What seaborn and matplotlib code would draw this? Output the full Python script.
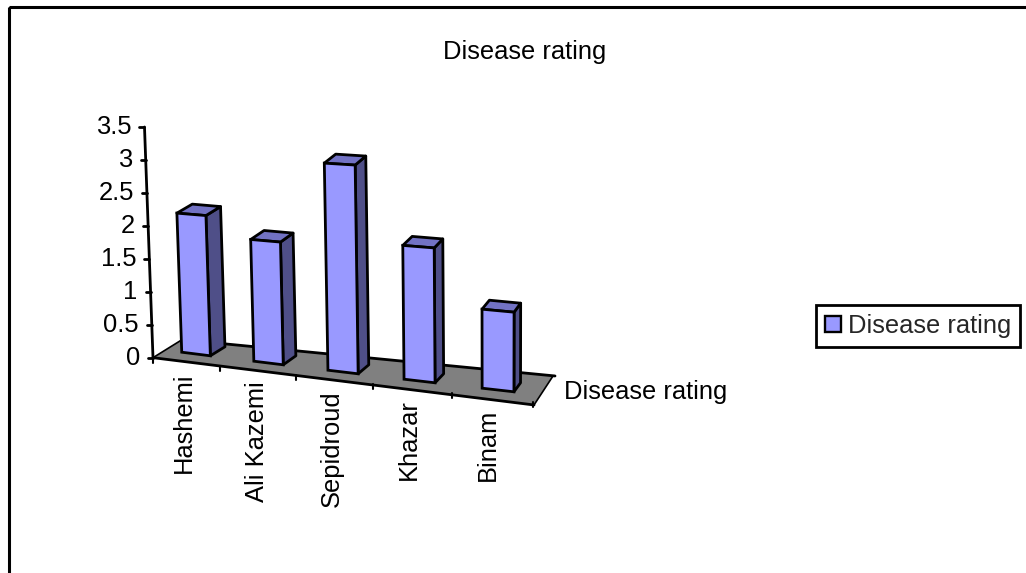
import numpy as np
import pandas as pd
import matplotlib
matplotlib.use("Agg")
import matplotlib.pyplot as plt
import seaborn as sns
from matplotlib.patches import Patch, Polygon, Rectangle
from matplotlib.transforms import Transform

# Chart data
CULTIVARS = ["Hashemi", "Ali Kazemi", "Sepidroud", "Khazar", "Binam"]
DISEASE_RATING = [2.1, 1.8, 3.0, 1.9, 1.1]
Y_TICKS = [0, 0.5, 1, 1.5, 2, 2.5, 3, 3.5]
Y_TICK_LABELS = ["0", "0.5", "1", "1.5", "2", "2.5", "3", "3.5"]
SERIES_NAME = "Disease rating"

# Styling
FRONT = "#9999FF"
SIDE = "#4F4F88"
TOP = "#7272C4"
FLOOR = "#808080"
FONT_PT = 18.4
EDGE_W = 2.0
BAR_WIDTH = 0.4
FRONT_DEPTH = -0.83   # depth of the floor's front edge, bars run from 0 to 1
AXIS_X = -0.42


def project(x, v, d=0.0):
    """Oblique perspective: category x, value v, depth d -> canvas pixels."""
    x, v, d = np.asarray(x, float), np.asarray(v, float), np.asarray(d, float)
    px = 196 + 71.5 * x + x ** 2 + (-2.2 + 0.55 * x) * v + d * (15 - 2 * x)
    py = 354 + 9 * x - (66.5 + 1.4 * x) * v - 9 * d
    return np.column_stack([px.ravel(), py.ravel()])


class FrontFace(Transform):
    """Applies project() to anything drawn in (category, value) coordinates."""
    input_dims = output_dims = 2
    is_separable = False
    has_inverse = False

    def transform_non_affine(self, values):
        values = np.asarray(values, float)
        return project(values[:, 0], values[:, 1])


sns.set_theme(style="white")
plt.rcParams["font.family"] = ["Liberation Sans", "DejaVu Sans"]

fig = plt.figure(figsize=(10.26, 5.73), dpi=100, facecolor="white")
ax = fig.add_axes([0, 0, 1, 1])

frame = pd.DataFrame({"cultivar": CULTIVARS, "rating": DISEASE_RATING})
sns.barplot(data=frame, x="cultivar", y="rating", order=CULTIVARS, color=FRONT,
            saturation=1, width=BAR_WIDTH, edgecolor="black", linewidth=EDGE_W,
            ax=ax, zorder=4)

front_face = FrontFace() + ax.transData
for bar in ax.patches:
    bar.set_transform(front_face)

# The canvas axes run in pixels, with the origin at the top left
ax.set_xlim(0, 1026)
ax.set_ylim(573, 0)
ax.set_axis_off()

# Outer chart border, running off the right and bottom of the canvas
ax.add_patch(Rectangle((9, 6.5), 1100, 700, fill=False, edgecolor="black", linewidth=2.2))

# Floor
front_left = project(AXIS_X, 0, FRONT_DEPTH)[0]
front_right = project(4.5, 0, FRONT_DEPTH)[0] + [1, 3]
back_left = front_left + [29, -18]
back_right = front_right + [19, -29]
ax.add_patch(Polygon([front_left, front_right, back_right, back_left], closed=True,
                     facecolor=FLOOR, edgecolor="none", zorder=1))
ax.plot(*np.array([front_left, front_right]).T, color="black", lw=EDGE_W, zorder=2)
ax.plot(*np.array([front_right, back_right]).T, color="black", lw=1.2, zorder=2)
ax.plot(*np.array([back_left, back_right + [2, 0]]).T, color="black", lw=EDGE_W, zorder=2)
ax.plot(*np.array([back_left, front_left]).T, color="black", lw=1.2, zorder=2)

# Side and top faces of every column
for i, value in enumerate(DISEASE_RATING):
    lo, hi = i - BAR_WIDTH / 2, i + BAR_WIDTH / 2
    side = project([hi, hi, hi, hi], [0, value, value, 0], [0, 0, 1, 1])
    top = project([lo, hi, hi, lo], [value] * 4, [0, 0, 1, 1])
    ax.add_patch(Polygon(side, closed=True, facecolor=SIDE, edgecolor="black",
                         linewidth=EDGE_W, joinstyle="round", zorder=3))
    ax.add_patch(Polygon(top, closed=True, facecolor=TOP, edgecolor="black",
                         linewidth=EDGE_W, joinstyle="round", zorder=3))

# Value axis, leaning with the perspective
axis_ends = project([AXIS_X, AXIS_X], [0, Y_TICKS[-1]], [FRONT_DEPTH, FRONT_DEPTH])
ax.plot(*axis_ends.T, color="black", lw=EDGE_W, zorder=2)
for tick, label in zip(Y_TICKS, Y_TICK_LABELS):
    px, py = project(AXIS_X, tick, FRONT_DEPTH)[0]
    ax.plot([px - 5, px], [py, py], color="black", lw=EDGE_W, zorder=2)
    ax.text(px - 13, py + 0.5, label, ha="right", va="center", fontsize=FONT_PT, color="black")

# Category axis ticks and rotated names
for boundary in [AXIS_X, 0.5, 1.5, 2.5, 3.5, 4.5]:
    px, py = project(boundary, 0, FRONT_DEPTH)[0]
    ax.plot([px, px], [py, py + 5], color="black", lw=1.5, zorder=2)
for i, name in enumerate(CULTIVARS):
    px, py = project(i, 0, FRONT_DEPTH)[0]
    ax.text(px - 1.2 * i, py + 11, name, rotation=90, ha="center", va="top",
            fontsize=FONT_PT, color="black")

# Depth axis name, chart title and legend
ax.text(564, 392.5, SERIES_NAME, ha="left", va="center", fontsize=FONT_PT, color="black")
ax.text(524.5, 52.5, SERIES_NAME, ha="center", va="center", fontsize=FONT_PT, color="black")
legend = ax.legend(handles=[Patch(facecolor=FRONT, edgecolor="black", linewidth=1.7, label=SERIES_NAME)],
                   loc="center left", bbox_to_anchor=(816, 326), bbox_transform=ax.transData,
                   fontsize=FONT_PT, frameon=True, fancybox=False, framealpha=1,
                   edgecolor="black", borderaxespad=0, borderpad=0.34,
                   handlelength=0.62, handleheight=0.62, handletextpad=0.28)
legend.get_frame().set_linewidth(2.0)
legend.set_zorder(6)

fig.savefig("out.png", dpi=100, facecolor="white")
